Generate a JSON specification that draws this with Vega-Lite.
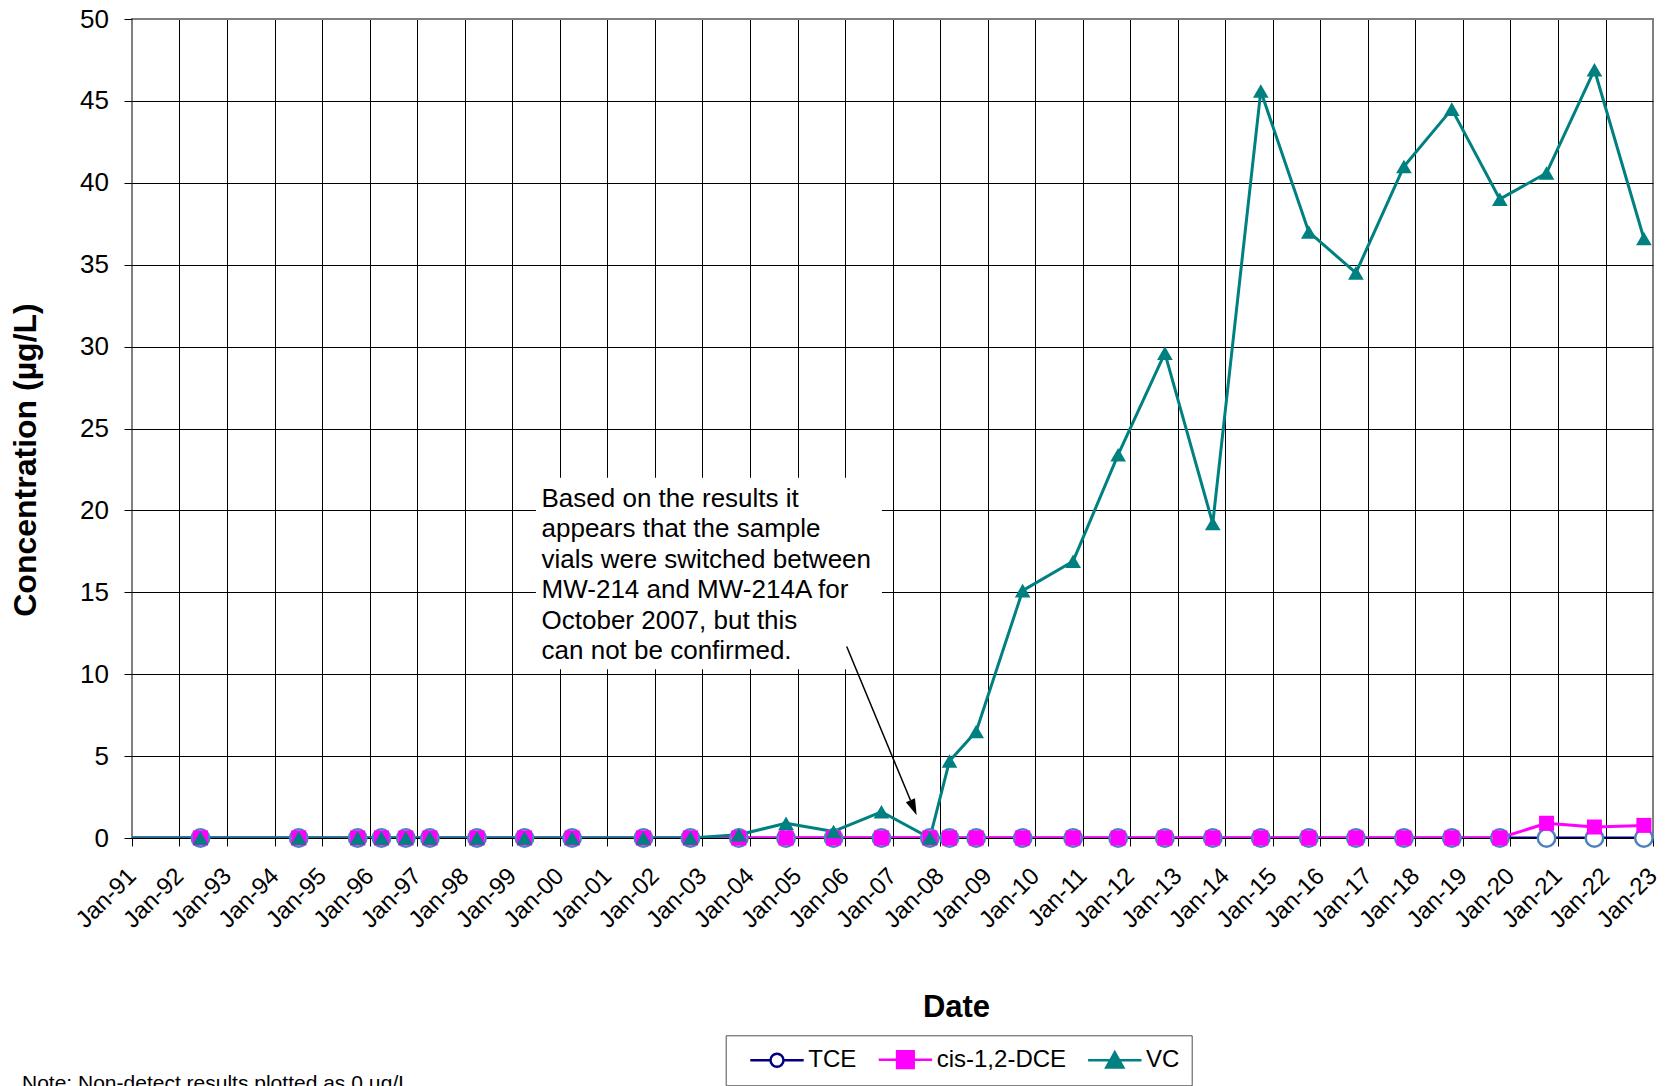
{
  "$schema": "https://vega.github.io/schema/vega-lite/v6.json",
  "width": 1521,
  "height": 819,
  "autosize": {"type": "none"},
  "padding": {"left": 132, "top": 19, "right": 14, "bottom": 248},
  "background": "#ffffff",
  "config": {
    "font": "Liberation Sans",
    "view": {"stroke": "#808080", "strokeWidth": 2},
    "axis": {
      "labelColor": "#000000",
      "titleColor": "#000000",
      "tickColor": "#000000",
      "gridOpacity": 1,
      "gridWidth": 1,
      "tickWidth": 1,
      "domain": false,
      "labelFont": "Liberation Sans",
      "titleFont": "Liberation Sans"
    }
  },
  "title": {
    "text": "Note:  Non-detect results plotted as 0 µg/L",
    "orient": "bottom",
    "anchor": "start",
    "frame": "group",
    "fontSize": 21,
    "fontWeight": "normal",
    "font": "Liberation Sans",
    "color": "#000000",
    "dx": -110,
    "offset": 4,
    "baseline": "alphabetic"
  },
  "data": {
    "values": [
      {"date": "1990-10-01", "series": "TCE", "value": 0},
      {"date": "1992-06-10", "series": "TCE", "value": 0},
      {"date": "1994-07-05", "series": "TCE", "value": 0},
      {"date": "1995-10-01", "series": "TCE", "value": 0},
      {"date": "1996-04-01", "series": "TCE", "value": 0},
      {"date": "1996-10-05", "series": "TCE", "value": 0},
      {"date": "1997-04-08", "series": "TCE", "value": 0},
      {"date": "1998-04-05", "series": "TCE", "value": 0},
      {"date": "1999-04-05", "series": "TCE", "value": 0},
      {"date": "2000-04-05", "series": "TCE", "value": 0},
      {"date": "2001-10-05", "series": "TCE", "value": 0},
      {"date": "2002-10-01", "series": "TCE", "value": 0},
      {"date": "2003-10-08", "series": "TCE", "value": 0},
      {"date": "2004-10-05", "series": "TCE", "value": 0},
      {"date": "2005-10-05", "series": "TCE", "value": 0},
      {"date": "2006-10-08", "series": "TCE", "value": 0},
      {"date": "2007-10-15", "series": "TCE", "value": 0},
      {"date": "2008-03-14", "series": "TCE", "value": 0},
      {"date": "2008-10-05", "series": "TCE", "value": 0},
      {"date": "2009-09-27", "series": "TCE", "value": 0},
      {"date": "2010-10-20", "series": "TCE", "value": 0},
      {"date": "2011-10-01", "series": "TCE", "value": 0},
      {"date": "2012-09-24", "series": "TCE", "value": 0},
      {"date": "2013-09-27", "series": "TCE", "value": 0},
      {"date": "2014-10-01", "series": "TCE", "value": 0},
      {"date": "2015-10-05", "series": "TCE", "value": 0},
      {"date": "2016-10-01", "series": "TCE", "value": 0},
      {"date": "2017-10-05", "series": "TCE", "value": 0},
      {"date": "2018-10-08", "series": "TCE", "value": 0},
      {"date": "2019-10-12", "series": "TCE", "value": 0},
      {"date": "2020-10-05", "series": "TCE", "value": 0},
      {"date": "2021-10-08", "series": "TCE", "value": 0},
      {"date": "2022-10-23", "series": "TCE", "value": 0},
      {"date": "1990-10-01", "series": "cis-1,2-DCE", "value": 0},
      {"date": "1992-06-10", "series": "cis-1,2-DCE", "value": 0},
      {"date": "1994-07-05", "series": "cis-1,2-DCE", "value": 0},
      {"date": "1995-10-01", "series": "cis-1,2-DCE", "value": 0},
      {"date": "1996-04-01", "series": "cis-1,2-DCE", "value": 0},
      {"date": "1996-10-05", "series": "cis-1,2-DCE", "value": 0},
      {"date": "1997-04-08", "series": "cis-1,2-DCE", "value": 0},
      {"date": "1998-04-05", "series": "cis-1,2-DCE", "value": 0},
      {"date": "1999-04-05", "series": "cis-1,2-DCE", "value": 0},
      {"date": "2000-04-05", "series": "cis-1,2-DCE", "value": 0},
      {"date": "2001-10-05", "series": "cis-1,2-DCE", "value": 0},
      {"date": "2002-10-01", "series": "cis-1,2-DCE", "value": 0},
      {"date": "2003-10-08", "series": "cis-1,2-DCE", "value": 0},
      {"date": "2004-10-05", "series": "cis-1,2-DCE", "value": 0},
      {"date": "2005-10-05", "series": "cis-1,2-DCE", "value": 0},
      {"date": "2006-10-08", "series": "cis-1,2-DCE", "value": 0},
      {"date": "2007-10-15", "series": "cis-1,2-DCE", "value": 0},
      {"date": "2008-03-14", "series": "cis-1,2-DCE", "value": 0},
      {"date": "2008-10-05", "series": "cis-1,2-DCE", "value": 0},
      {"date": "2009-09-27", "series": "cis-1,2-DCE", "value": 0},
      {"date": "2010-10-20", "series": "cis-1,2-DCE", "value": 0},
      {"date": "2011-10-01", "series": "cis-1,2-DCE", "value": 0},
      {"date": "2012-09-24", "series": "cis-1,2-DCE", "value": 0},
      {"date": "2013-09-27", "series": "cis-1,2-DCE", "value": 0},
      {"date": "2014-10-01", "series": "cis-1,2-DCE", "value": 0},
      {"date": "2015-10-05", "series": "cis-1,2-DCE", "value": 0},
      {"date": "2016-10-01", "series": "cis-1,2-DCE", "value": 0},
      {"date": "2017-10-05", "series": "cis-1,2-DCE", "value": 0},
      {"date": "2018-10-08", "series": "cis-1,2-DCE", "value": 0},
      {"date": "2019-10-12", "series": "cis-1,2-DCE", "value": 0},
      {"date": "2020-10-05", "series": "cis-1,2-DCE", "value": 0.9},
      {"date": "2021-10-08", "series": "cis-1,2-DCE", "value": 0.67},
      {"date": "2022-10-23", "series": "cis-1,2-DCE", "value": 0.77},
      {"date": "1990-10-01", "series": "VC", "value": 0},
      {"date": "1992-06-10", "series": "VC", "value": 0},
      {"date": "1994-07-05", "series": "VC", "value": 0},
      {"date": "1995-10-01", "series": "VC", "value": 0},
      {"date": "1996-04-01", "series": "VC", "value": 0},
      {"date": "1996-10-05", "series": "VC", "value": 0},
      {"date": "1997-04-08", "series": "VC", "value": 0},
      {"date": "1998-04-05", "series": "VC", "value": 0},
      {"date": "1999-04-05", "series": "VC", "value": 0},
      {"date": "2000-04-05", "series": "VC", "value": 0},
      {"date": "2001-10-05", "series": "VC", "value": 0},
      {"date": "2002-10-01", "series": "VC", "value": 0},
      {"date": "2003-10-08", "series": "VC", "value": 0.2},
      {"date": "2004-10-05", "series": "VC", "value": 0.9},
      {"date": "2005-10-05", "series": "VC", "value": 0.4},
      {"date": "2006-10-08", "series": "VC", "value": 1.6},
      {"date": "2007-10-15", "series": "VC", "value": 0},
      {"date": "2008-03-14", "series": "VC", "value": 4.7},
      {"date": "2008-10-05", "series": "VC", "value": 6.5},
      {"date": "2009-09-27", "series": "VC", "value": 15.1},
      {"date": "2010-10-20", "series": "VC", "value": 16.9},
      {"date": "2011-10-01", "series": "VC", "value": 23.4},
      {"date": "2012-09-24", "series": "VC", "value": 29.6},
      {"date": "2013-09-27", "series": "VC", "value": 19.2},
      {"date": "2014-10-01", "series": "VC", "value": 45.6},
      {"date": "2015-10-05", "series": "VC", "value": 37.0},
      {"date": "2016-10-01", "series": "VC", "value": 34.5},
      {"date": "2017-10-05", "series": "VC", "value": 41.0},
      {"date": "2018-10-08", "series": "VC", "value": 44.5},
      {"date": "2019-10-12", "series": "VC", "value": 39.0},
      {"date": "2020-10-05", "series": "VC", "value": 40.6},
      {"date": "2021-10-08", "series": "VC", "value": 46.9},
      {"date": "2022-10-23", "series": "VC", "value": 36.6}
    ]
  },
  "layer": [
    {
      "mark": {"type": "line", "strokeWidth": 3, "clip": true, "strokeJoin": "round"},
      "encoding": {
        "x": {
          "field": "date",
          "type": "temporal",
          "scale": {
            "type": "utc",
            "domain": [
              {"year": 1991, "month": 1, "date": 1, "utc": true},
              {"year": 2023, "month": 1, "date": 1, "utc": true}
            ]
          },
          "axis": {
            "title": "Date",
            "values": [
              {"year": 1991, "month": 1, "date": 1, "utc": true},
              {"year": 1992, "month": 1, "date": 1, "utc": true},
              {"year": 1993, "month": 1, "date": 1, "utc": true},
              {"year": 1994, "month": 1, "date": 1, "utc": true},
              {"year": 1995, "month": 1, "date": 1, "utc": true},
              {"year": 1996, "month": 1, "date": 1, "utc": true},
              {"year": 1997, "month": 1, "date": 1, "utc": true},
              {"year": 1998, "month": 1, "date": 1, "utc": true},
              {"year": 1999, "month": 1, "date": 1, "utc": true},
              {"year": 2000, "month": 1, "date": 1, "utc": true},
              {"year": 2001, "month": 1, "date": 1, "utc": true},
              {"year": 2002, "month": 1, "date": 1, "utc": true},
              {"year": 2003, "month": 1, "date": 1, "utc": true},
              {"year": 2004, "month": 1, "date": 1, "utc": true},
              {"year": 2005, "month": 1, "date": 1, "utc": true},
              {"year": 2006, "month": 1, "date": 1, "utc": true},
              {"year": 2007, "month": 1, "date": 1, "utc": true},
              {"year": 2008, "month": 1, "date": 1, "utc": true},
              {"year": 2009, "month": 1, "date": 1, "utc": true},
              {"year": 2010, "month": 1, "date": 1, "utc": true},
              {"year": 2011, "month": 1, "date": 1, "utc": true},
              {"year": 2012, "month": 1, "date": 1, "utc": true},
              {"year": 2013, "month": 1, "date": 1, "utc": true},
              {"year": 2014, "month": 1, "date": 1, "utc": true},
              {"year": 2015, "month": 1, "date": 1, "utc": true},
              {"year": 2016, "month": 1, "date": 1, "utc": true},
              {"year": 2017, "month": 1, "date": 1, "utc": true},
              {"year": 2018, "month": 1, "date": 1, "utc": true},
              {"year": 2019, "month": 1, "date": 1, "utc": true},
              {"year": 2020, "month": 1, "date": 1, "utc": true},
              {"year": 2021, "month": 1, "date": 1, "utc": true},
              {"year": 2022, "month": 1, "date": 1, "utc": true},
              {"year": 2023, "month": 1, "date": 1, "utc": true}
            ],
            "labelExpr": "utcFormat(datum.value, '%b-%y')",
            "labelAngle": -45,
            "labelAlign": "right",
            "labelBaseline": "middle",
            "labelFontSize": 24,
            "labelPadding": 26,
            "labelOverlap": false,
            "labelFlush": false,
            "labelBound": false,
            "tickSize": 8,
            "grid": true,
            "gridColor": {"condition": {"test": "utcyear(datum.value) === 1991 || utcyear(datum.value) === 2023", "value": "#808080"}, "value": "#000000"},
            "titleFontSize": 31,
            "titleFontWeight": "bold",
            "titleX": 824,
            "titleY": 178.7,
            "titleAlign": "center",
            "titleBaseline": "alphabetic"
          }
        },
        "y": {
          "field": "value",
          "type": "quantitative",
          "scale": {"domain": [0, 50], "nice": false, "zero": true},
          "axis": {
            "title": "Concentration (µg/L)",
            "values": [0, 5, 10, 15, 20, 25, 30, 35, 40, 45, 50],
            "labelFontSize": 26,
            "labelPadding": 15.5,
            "tickSize": 8,
            "grid": true,
            "gridColor": {"condition": {"test": "datum.value === 50", "value": "#808080"}, "value": "#000000"},
            "titleFontSize": 32,
            "titleFontWeight": "bold",
            "titleAngle": 270,
            "titleX": -96.5,
            "titleY": 440.5,
            "titleAlign": "center",
            "titleBaseline": "alphabetic"
          }
        },
        "color": {
          "field": "series",
          "type": "nominal",
          "scale": {"domain": ["TCE", "cis-1,2-DCE", "VC"], "range": ["#000080", "#FF00FF", "#008080"]},
          "legend": {
            "orient": "none",
            "legendX": 593.7,
            "legendY": 1016.3,
            "direction": "horizontal",
            "title": null,
            "padding": 12,
            "strokeColor": "#505050",
            "fillColor": "#ffffff",
            "columnPadding": 9.4,
            "labelOffset": 46.6,
            "symbolSize": 400,
            "symbolStrokeWidth": 2.5,
            "symbolOpacity": 1,
            "labelFontSize": 24,
            "labelFont": "Liberation Sans",
            "labelColor": "#000000"
          }
        }
      }
    },
    {
      "transform": [{"filter": "datum.series === 'TCE' && utcyear(datum.date) >= 1991"}],
      "mark": {"type": "point", "shape": "circle", "filled": true, "fill": "#FFFFFF", "stroke": "#4F81BD", "strokeWidth": 2.5, "size": 306, "opacity": 1, "clip": false},
      "encoding": {
        "x": {"field": "date", "type": "temporal"},
        "y": {"field": "value", "type": "quantitative"}
      }
    },
    {
      "transform": [{"filter": "datum.series === 'cis-1,2-DCE' && utcyear(datum.date) >= 1991"}],
      "mark": {"type": "point", "shape": "square", "filled": true, "fill": "#FF00FF", "strokeWidth": 0, "size": 225, "opacity": 1, "clip": false},
      "encoding": {
        "x": {"field": "date", "type": "temporal"},
        "y": {"field": "value", "type": "quantitative"}
      }
    },
    {
      "transform": [{"filter": "datum.series === 'VC' && utcyear(datum.date) >= 1991"}],
      "mark": {"type": "point", "shape": "triangle-up", "filled": true, "fill": "#008080", "strokeWidth": 0, "size": 246, "opacity": 1, "clip": false},
      "encoding": {
        "x": {"field": "date", "type": "temporal"},
        "y": {"field": "value", "type": "quantitative"}
      }
    },
    {
      "mark": {"type": "point", "filled": true, "opacity": 0, "clip": true},
      "encoding": {
        "x": {"field": "date", "type": "temporal"},
        "y": {"field": "value", "type": "quantitative"},
        "shape": {
          "field": "series",
          "type": "nominal",
          "scale": {
            "domain": ["TCE", "cis-1,2-DCE", "VC"],
            "range": [
              "M0.06,0L2.08,0M3.38,0L5.4,0M3.38,0A0.65,0.65,0,1,1,2.08,0A0.65,0.65,0,1,1,3.38,0Z",
              "M0.06,0L5.4,0M1.9,-0.83L3.56,-0.83L3.56,0.83L1.9,0.83Z",
              "M0.06,0L5.4,0M2.73,-0.78L3.58,0.72L1.88,0.72Z"
            ]
          },
          "legend": null
        },
        "fill": {
          "field": "series",
          "type": "nominal",
          "scale": {"domain": ["TCE", "cis-1,2-DCE", "VC"], "range": ["#FFFFFF", "#FF00FF", "#008080"]},
          "legend": null
        }
      }
    },
    {
      "data": {"values": [{"box": "note"}]},
      "mark": {"type": "rect", "fill": "#ffffff"},
      "encoding": {
        "x": {"datum": {"year": 1999, "month": 7, "date": 2, "utc": true}, "type": "temporal"},
        "x2": {"datum": {"year": 2006, "month": 10, "date": 12, "utc": true}},
        "y": {"datum": 22.0, "type": "quantitative"},
        "y2": {"datum": 10.3}
      }
    },
    {
      "data": {"values": [{"note": ["Based on the results it", "appears that the sample", "vials were switched between", "MW-214 and MW-214A for", "October 2007, but this", "can not be confirmed."]}]},
      "mark": {"type": "text", "align": "left", "baseline": "alphabetic", "fontSize": 26, "lineHeight": 30.4, "font": "Liberation Sans", "color": "#000000"},
      "encoding": {
        "x": {"datum": {"year": 1999, "month": 8, "date": 14, "utc": true}, "type": "temporal"},
        "y": {"datum": 20.21, "type": "quantitative"},
        "text": {"field": "note"}
      }
    },
    {
      "data": {"values": [{"arrow": "shaft"}]},
      "mark": {"type": "rule", "strokeWidth": 1.5, "color": "#000000"},
      "encoding": {
        "x": {"datum": {"year": 2006, "month": 1, "date": 14, "utc": true}, "type": "temporal"},
        "x2": {"datum": {"year": 2007, "month": 5, "date": 19, "utc": true}},
        "y": {"datum": 11.69, "type": "quantitative"},
        "y2": {"datum": 2.3}
      }
    },
    {
      "data": {"values": [{"arrow": "head"}]},
      "mark": {"type": "point", "shape": "M0,-1L0.55,0.8L-0.55,0.8Z", "filled": true, "color": "#000000", "opacity": 1, "size": 324, "angle": 157.4},
      "encoding": {
        "x": {"datum": {"year": 2007, "month": 6, "date": 9, "utc": true}, "type": "temporal"},
        "y": {"datum": 1.9, "type": "quantitative"}
      }
    }
  ]
}
